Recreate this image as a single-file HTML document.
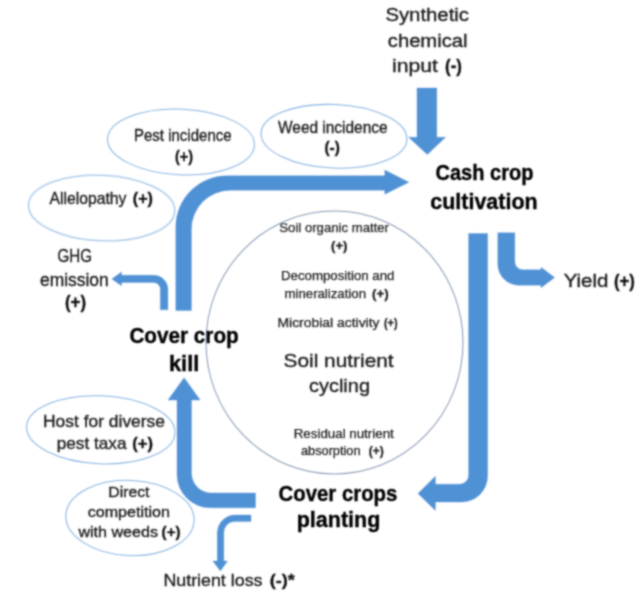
<!DOCTYPE html>
<html><head><meta charset="utf-8"><title>Cover crop nutrient cycling</title>
<style>
html,body{margin:0;padding:0;background:#fff;}
svg{display:block;}
text{font-family:"Liberation Sans",Arial,sans-serif;fill:#202020;stroke:#202020;stroke-width:0.35;}
.b{font-weight:bold;fill:#111;}
.h{font-weight:bold;fill:#000;stroke:#000;stroke-width:0.35;font-size:21.2px;}
.m{font-size:17px;}
.l{font-size:18px;}
.d{font-size:15.5px;}
.c{font-size:19px;}
.s{font-size:12.2px;fill:#1e1e1e;stroke:#1e1e1e;stroke-width:0.25;}
.a{fill:#5091d5;stroke:#4c8bcf;stroke-width:0.3;}
.e{fill:none;stroke:#86b3e2;stroke-width:1.05;}
</style></head><body>
<svg width="640" height="598" viewBox="0 0 640 598">
<rect width="640" height="598" fill="#fff"/>
<g id="g" filter="url(#bl)">
<defs><filter id="bl" x="-5%" y="-5%" width="110%" height="110%"><feConvolveMatrix order="5" kernelMatrix="0.00048 0.00501 0.01095 0.00501 0.00048 0.00501 0.05222 0.11405 0.05222 0.00501 0.01095 0.11405 0.24912 0.11405 0.01095 0.00501 0.05222 0.11405 0.05222 0.00501 0.00048 0.00501 0.01095 0.00501 0.00048" edgeMode="duplicate" preserveAlpha="false"/></filter></defs>

<!-- ellipses -->
<ellipse class="e" cx="181" cy="142" rx="73.5" ry="32.8" transform="rotate(2.5 181 142)"/>
<ellipse class="e" cx="334" cy="136.3" rx="73" ry="31.8" transform="rotate(2.5 334 136.3)"/>
<ellipse class="e" cx="101.6" cy="208" rx="73.2" ry="32.8" transform="rotate(2.5 101.6 208)"/>
<ellipse class="e" cx="100.8" cy="429.8" rx="74.3" ry="34" transform="rotate(2.5 100.8 429.8)"/>
<ellipse class="e" cx="130" cy="518" rx="64.2" ry="37.6" transform="rotate(2.5 130 518)"/>
<ellipse cx="334.5" cy="342.5" rx="128.5" ry="131.5" fill="none" stroke="#8a9bb4" stroke-width="1.05"/>

<!-- arrows -->
<path class="a" d="M417 88H436.8V137.2H445.6L427.3 154.6L408.6 137.2H417Z"/>
<path class="a" d="M175.8 310.6V226.8A51 51 0 0 1 226.8 175.8H384.8V170L408.8 182.2L384.8 194.2V190.2H230.4A39 39 0 0 0 191.4 229.2V310.6Z"/>
<path class="a" d="M160.3 309.8V289A6.5 6.5 0 0 0 153.8 282.5H121.5V285.8L111.8 278.9L121.5 271.9V275.3H153.9A14 14 0 0 1 167.9 289.3V309.8Z"/>
<path class="a" d="M468.6 233.5H487.6V476A26 26 0 0 1 461.6 502H435.4V510.4L418 493.6L435.4 476.2V484.2H459.6A9 9 0 0 0 468.6 475.2Z"/>
<path class="a" d="M497.8 232.8H514.8V261.8A8 8 0 0 0 522.8 269.8H541V267.2L554.6 277.6L541 287.8V285.2H518.8A21 21 0 0 1 497.8 264.2Z"/>
<path class="a" d="M255.5 493V507.8H210.2A33.2 33.2 0 0 1 177 474.6V400H168L184.1 377.8L200.2 400H191.5V473A20 20 0 0 0 211.5 493Z"/>
<path class="a" d="M251 515V521.6H235A11 11 0 0 0 223.8 532.8V561H227.500L220.4 571L212.800 561H217.3V533A18 18 0 0 1 235.3 515Z"/>

<!-- text -->
<text class="l" x="385.4" y="20.8" textLength="83.6" lengthAdjust="spacingAndGlyphs">Synthetic</text>
<text class="l" x="387.8" y="46.9" textLength="79.7" lengthAdjust="spacingAndGlyphs">chemical</text>
<text class="l" x="392" y="72.2" textLength="45.9" lengthAdjust="spacingAndGlyphs">input</text>
<text class="l b" x="445" y="72.2" textLength="16.9" lengthAdjust="spacingAndGlyphs">(-)</text>
<text class="m" x="134" y="141" textLength="97.6" lengthAdjust="spacingAndGlyphs">Pest incidence</text>
<text class="m b" x="175" y="162" textLength="18" lengthAdjust="spacingAndGlyphs">(+)</text>
<text class="m" x="278" y="132.7" textLength="109.6" lengthAdjust="spacingAndGlyphs">Weed incidence</text>
<text class="m b" x="324.4" y="153.1" textLength="15.4" lengthAdjust="spacingAndGlyphs">(-)</text>
<text class="m" x="49.5" y="203.5" textLength="76.9" lengthAdjust="spacingAndGlyphs">Allelopathy</text>
<text class="m b" x="132.8" y="203.5" textLength="20.2" lengthAdjust="spacingAndGlyphs">(+)</text>
<text class="l" x="57.5" y="262" textLength="34.5" lengthAdjust="spacingAndGlyphs">GHG</text>
<text class="l" x="40" y="286" textLength="68.7" lengthAdjust="spacingAndGlyphs">emission</text>
<text class="l b" x="65" y="308" textLength="21" lengthAdjust="spacingAndGlyphs">(+)</text>
<text class="h" x="435.5" y="180.2" textLength="97.9" lengthAdjust="spacingAndGlyphs">Cash crop</text>
<text class="h" x="430.3" y="209.2" textLength="107.3" lengthAdjust="spacingAndGlyphs">cultivation</text>
<text class="l" x="563.7" y="287" textLength="44.7" lengthAdjust="spacingAndGlyphs">Yield</text>
<text class="l b" x="614" y="287" textLength="20.8" lengthAdjust="spacingAndGlyphs">(+)</text>
<text class="h" x="129.4" y="342.5" textLength="109.3" lengthAdjust="spacingAndGlyphs">Cover crop</text>
<text class="h" x="169" y="371" textLength="30.3" lengthAdjust="spacingAndGlyphs">kill</text>
<text class="h" x="278.5" y="500.6" textLength="118.9" lengthAdjust="spacingAndGlyphs">Cover crops</text>
<text class="h" x="296.7" y="527.2" textLength="83.6" lengthAdjust="spacingAndGlyphs">planting</text>
<text class="m" x="43" y="426.7" textLength="122" lengthAdjust="spacingAndGlyphs">Host for diverse</text>
<text class="m" x="56.7" y="449.3" textLength="69.8" lengthAdjust="spacingAndGlyphs">pest taxa</text>
<text class="m b" x="132.3" y="449.3" textLength="20.7" lengthAdjust="spacingAndGlyphs">(+)</text>
<text class="d" x="108.3" y="496.7" textLength="41.2" lengthAdjust="spacingAndGlyphs">Direct</text>
<text class="d" x="87.7" y="516.5" textLength="82.3" lengthAdjust="spacingAndGlyphs">competition</text>
<text class="d" x="78.4" y="536.7" textLength="79.6" lengthAdjust="spacingAndGlyphs">with weeds</text>
<text class="d b" x="161.6" y="536.7" textLength="18.9" lengthAdjust="spacingAndGlyphs">(+)</text>
<text class="m" x="163.4" y="586" textLength="99.1" lengthAdjust="spacingAndGlyphs">Nutrient loss</text>
<text class="m b" x="269.7" y="586" textLength="25.0" lengthAdjust="spacingAndGlyphs">(-)*</text>
<text class="s" x="279.3" y="232" textLength="109.7" lengthAdjust="spacingAndGlyphs">Soil organic matter</text>
<text class="s b" x="331" y="249.5" textLength="16.5" lengthAdjust="spacingAndGlyphs">(+)</text>
<text class="s" x="281" y="280" textLength="113.5" lengthAdjust="spacingAndGlyphs">Decomposition and</text>
<text class="s" x="284.5" y="297.5" textLength="81.5" lengthAdjust="spacingAndGlyphs">mineralization</text>
<text class="s b" x="372" y="297.5" textLength="16.7" lengthAdjust="spacingAndGlyphs">(+)</text>
<text class="s" x="277.5" y="327" textLength="102.0" lengthAdjust="spacingAndGlyphs">Microbial activity</text>
<text class="s b" x="384" y="327" textLength="13.5" lengthAdjust="spacingAndGlyphs">(+)</text>
<text class="c" x="283.6" y="366.8" textLength="110" lengthAdjust="spacingAndGlyphs">Soil nutrient</text>
<text class="c" x="309" y="391.8" textLength="61" lengthAdjust="spacingAndGlyphs">cycling</text>
<text class="s" x="293.75" y="437.5" textLength="100.0" lengthAdjust="spacingAndGlyphs">Residual nutrient</text>
<text class="s" x="301" y="454.5" textLength="59.5" lengthAdjust="spacingAndGlyphs">absorption</text>
<text class="s b" x="368.75" y="454.5" textLength="15.0" lengthAdjust="spacingAndGlyphs">(+)</text>
</g>
</svg>
</body></html>
